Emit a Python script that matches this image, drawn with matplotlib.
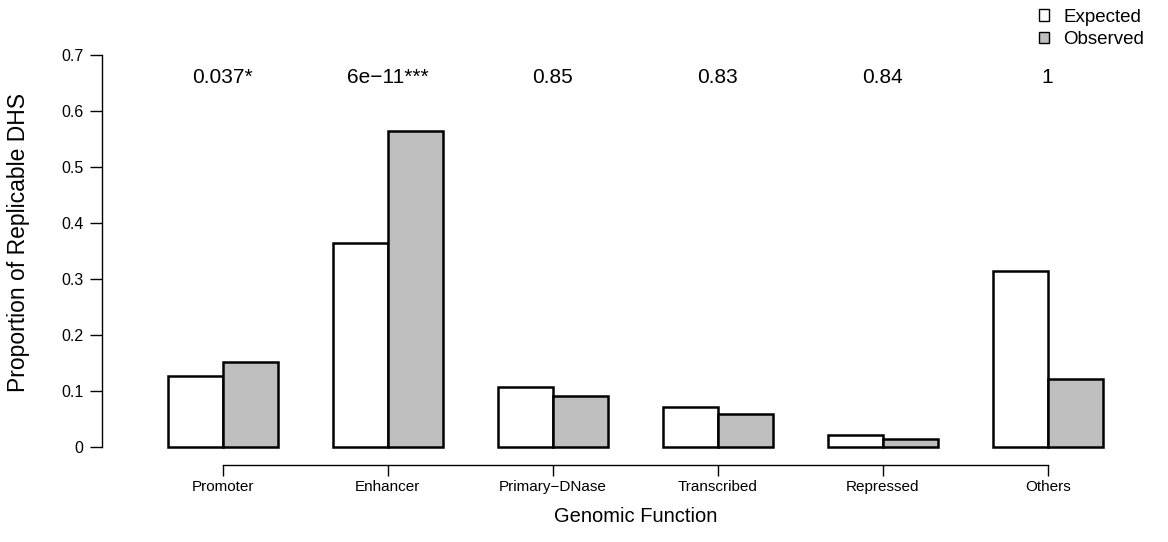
import numpy as np
import matplotlib.pyplot as plt
from matplotlib.patches import Patch

plt.rcParams['font.family'] = ['Liberation Sans', 'DejaVu Sans']

categories = ['Promoter', 'Enhancer', 'Primary\u2212DNase', 'Transcribed', 'Repressed', 'Others']
expected = [0.127, 0.364, 0.107, 0.070, 0.020, 0.313]
observed = [0.152, 0.563, 0.091, 0.059, 0.014, 0.121]
pvals = ['0.037*', '6e\u221211***', '0.85', '0.83', '0.84', '1']
yticks = [0, 0.1, 0.2, 0.3, 0.4, 0.5, 0.6, 0.7]
ytick_labels = ['0', '0.1', '0.2', '0.3', '0.4', '0.5', '0.6', '0.7']

W, H = 1168, 542
fig = plt.figure(figsize=(W / 100, H / 100), dpi=100)
ax_left, ax_right = 101.7, 1140
ax = fig.add_axes([ax_left / W, 1 - 465 / H, (ax_right - ax_left) / W, (465 - 39) / H])

# R-style beside barplot: space=c(0,1), width 1
n = len(categories)
centers = np.arange(n) * 3 + 2
ax.bar(centers - 0.5, expected, width=1, color='white', edgecolor='black', linewidth=1.8)
ax.bar(centers + 0.5, observed, width=1, color='#bebebe', edgecolor='black', linewidth=1.8)

for c, p in zip(centers, pvals):
    ax.text(c, 0.66, p, ha='center', va='center', fontsize=15)

ax.set_xlim(-0.205, 18.68)
ax.set_ylim(-0.0327, 0.728)

for s in ['top', 'right']:
    ax.spines[s].set_visible(False)
ax.spines['left'].set_bounds(0, 0.7)
ax.spines['bottom'].set_bounds(centers[0], centers[-1])
ax.spines['left'].set_linewidth(1)
ax.spines['bottom'].set_linewidth(1)

ax.set_yticks(yticks)
ax.set_yticklabels(ytick_labels)
ax.set_xticks(centers)
ax.set_xticklabels(categories)
ax.tick_params(axis='y', length=8.5, width=1, pad=4.5, labelsize=11.5)
ax.tick_params(axis='x', length=8, width=1, pad=3, labelsize=11)

# labels centred on the R plot region (x 130..1140, y 39..463)
ax.set_ylabel('Proportion of Replicable DHS', fontsize=16.5)
ax.yaxis.set_label_coords(-(101.7 - 19) / (ax_right - ax_left), (465 - 243) / (465 - 39))
ax.set_xlabel('Genomic Function', fontsize=14.5)
ax.xaxis.set_label_coords((635.5 - ax_left) / (ax_right - ax_left), -(516 - 465) / (465 - 39))
ax.xaxis.label.set_va('center')
ax.yaxis.label.set_va('center')

handles = [Patch(facecolor='white', edgecolor='black', linewidth=1),
           Patch(facecolor='#bebebe', edgecolor='black', linewidth=1)]
fig.legend(handles, ['Expected', 'Observed'], loc='upper right',
           bbox_to_anchor=(0.994, 1.015), frameon=False, fontsize=13.5,
           handlelength=0.55, handleheight=0.55, handletextpad=0.75, labelspacing=0.3)

fig.savefig('out.png', dpi=100)
